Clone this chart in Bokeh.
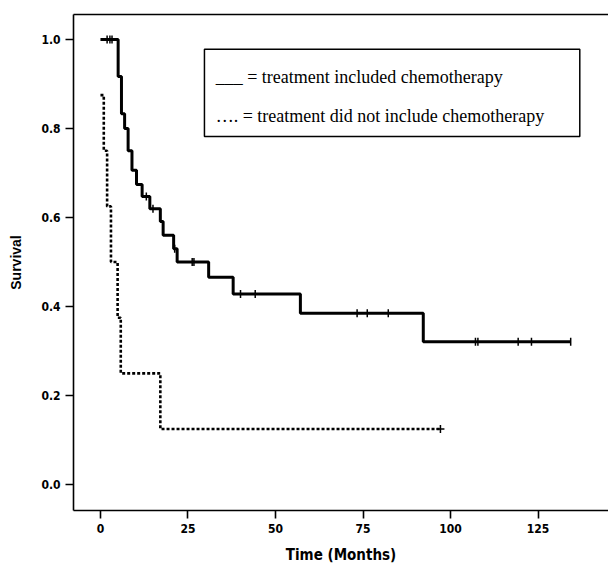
from bokeh.plotting import figure
from bokeh.models import (Range1d, FixedTicker, LinearAxis, BoxAnnotation, Label,
                          NumeralTickFormatter)
from bokeh.embed import file_html
from bokeh.resources import INLINE
import math

# ---- data ----
chemo_times = [0, 5.05, 6.0, 6.9, 7.9, 9.0, 10.3, 11.9, 14.1, 17.1, 17.9, 20.9, 21.9, 30.9, 37.9, 57.1, 92.2, 134.3]
chemo_surv = [1.0, 0.917, 0.833, 0.80, 0.75, 0.706, 0.674, 0.647, 0.62, 0.591, 0.56, 0.53, 0.50, 0.466, 0.428, 0.385, 0.321, 0.321]
chemo_cens_t = [1.9, 2.7, 3.3, 13.1, 15.0, 21.2, 26.2, 26.7, 40.0, 44.2, 73.3, 76.2, 82.2, 107.1, 107.8, 119.3, 123.1, 134.3]
chemo_cens_s = [1.0, 1.0, 1.0, 0.647, 0.62, 0.53, 0.50, 0.50, 0.428, 0.428, 0.385, 0.385, 0.385, 0.321, 0.321, 0.321, 0.321, 0.321]

nochemo_times = [0, 0.95, 1.9, 3.0, 4.9, 5.8, 17.1, 97.1]
nochemo_surv = [0.875, 0.75, 0.625, 0.5, 0.375, 0.25, 0.125, 0.125]
nochemo_cens_t = [97.1]
nochemo_cens_s = [0.125]

x_ticks = [0, 25, 50, 75, 100, 125]
y_ticks = [0.0, 0.2, 0.4, 0.6, 0.8, 1.0]

legend_lines = ["___ = treatment included chemotherapy",
                "\u2026. = treatment did not include chemotherapy"]

p = figure(width=608, height=568, output_backend="svg", toolbar_location=None,
           x_range=Range1d(-7.7, 145.1), y_range=Range1d(-0.058, 1.056),
           min_border_left=73, min_border_right=0, min_border_top=14, min_border_bottom=58)
p.outline_line_color = None
p.background_fill_color = "white"
p.border_fill_color = "white"
p.xgrid.visible = False
p.ygrid.visible = False

lab_font = "DejaVu Sans Condensed"
for ax in (p.xaxis[0], p.yaxis[0]):
    ax.axis_line_width = 1.6
    ax.axis_line_color = "black"
    ax.major_tick_line_width = 1.6
    ax.major_tick_line_color = "black"
    ax.major_tick_in = 0
    ax.major_tick_out = 8
    ax.minor_tick_line_color = None
    ax.major_label_text_font = lab_font
    ax.major_label_text_font_style = "bold"
    ax.major_label_text_font_size = "12px"
    ax.major_label_text_color = "black"
    ax.major_label_standoff = 5
    ax.axis_label_text_color = "black"
    ax.axis_label_text_font_style = "bold"

p.xaxis.ticker = FixedTicker(ticks=x_ticks)
p.yaxis.ticker = FixedTicker(ticks=y_ticks)
p.yaxis.formatter = NumeralTickFormatter(format="0.0")
p.xaxis.axis_label = "Time (Months)"
p.xaxis.axis_label_text_font = lab_font
p.xaxis.axis_label_text_font_size = "15px"
p.xaxis.axis_label_standoff = 10
p.yaxis.axis_label = "Survival"
p.yaxis.axis_label_text_font = "Liberation Sans"
p.yaxis.axis_label_text_font_size = "14px"
p.yaxis.axis_label_standoff = 14

top_axis = LinearAxis(ticker=FixedTicker(ticks=[]), major_label_text_font_size="0px",
                      axis_line_width=1.6, axis_line_color="black",
                      major_tick_line_color=None, minor_tick_line_color=None)
p.add_layout(top_axis, "above")

# curves
p.step(chemo_times, chemo_surv, mode="after", line_color="black", line_width=3)
p.step(nochemo_times, nochemo_surv, mode="after", line_color="black", line_width=2.6,
       line_dash="3 2")
p.scatter(chemo_cens_t, chemo_cens_s, marker="dash", angle=math.pi / 2, size=8,
          line_color="black", line_width=1.5)
p.scatter(nochemo_cens_t, nochemo_cens_s, marker="cross", size=8,
          line_color="black", line_width=1.5)

# legend box
box = BoxAnnotation(left=29.7, right=136.9, top=0.978, bottom=0.782,
                    fill_color=None, fill_alpha=0, line_color="black", line_alpha=1.0,
                    line_width=1.5)
p.add_layout(box)
for txt, yv in zip(legend_lines, [0.915, 0.829]):
    p.add_layout(Label(x=32.9, y=yv, text=txt, text_font="Liberation Serif",
                       text_font_size="18px", text_color="black",
                       text_baseline="alphabetic", text_align="left"))

open("out.html", "w").write(file_html(p, INLINE))
